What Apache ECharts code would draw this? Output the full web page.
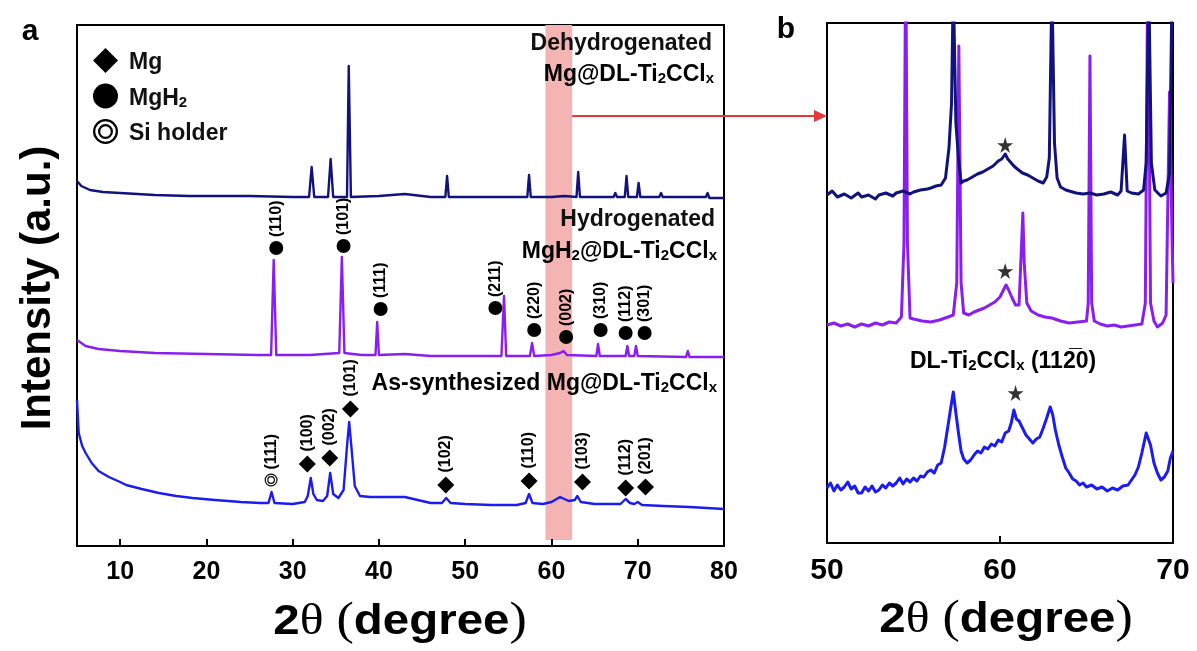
<!DOCTYPE html>
<html>
<head>
<meta charset="utf-8">
<script src="https://cdn.jsdelivr.net/npm/echarts@6/dist/echarts.min.js"></script>
<style>
html,body{margin:0;padding:0;background:#fff;}
#chart{width:1197px;height:651px;}
</style>
</head>
<body>
<div id="chart"></div>
<script>
// ---- axis ticks ----
const ticksA = [10, 20, 30, 40, 50, 60, 70, 80];
const ticksB = [50, 60, 70];

// ---- panel a: full-range XRD patterns, [2θ, intensity (a.u., offset)] ----
const asSynthesized = [
  [5.0,146],[5.2,113],[5.6,100],[6.0,93],[6.7,83],[7.5,75],[8.7,69],[10.0,64],[10.7,61],[12.5,57],
  [14.5,53],[16.5,50],[18.4,48],[21,46],[24,44],[26.2,43],[27.2,43],[27.55,54],[27.9,43],[30,42],
  [31.4,44],[31.75,50],[32.1,68],[32.4,52],[32.8,46],[33.5,45],[34.0,50],[34.35,73],[34.7,52],[35.3,48],
  [35.9,56],[36.3,100],[36.55,124],[36.8,100],[37.2,60],[37.8,50],[39,49],[41,49],[43,49],[44.5,46],
  [46,43],[47.3,43],[47.8,48],[48.3,43],[50,42],[53,41],[56,41],[57.0,43],[57.4,52],[57.8,43],
  [59,42],[60,44],[61,49],[62,45],[62.7,46],[63.0,50],[63.4,44],[65,42],[68.0,42],[68.6,47],
  [69.1,43],[69.6,42],[70.0,44],[70.5,41],[73,40],[76,39],[80,37]
];
const hydrogenated = [
  [5,206],[6,200],[7.5,197],[10,195],[14,193],[20,192],[26,191],[27.5,191],[27.8,286],[28.1,191],
  [32,191],[35.4,193],[35.7,289],[36.0,193],[38,191],[39.6,191],[39.8,224],[40.0,191],[43,192],[46,190],
  [50,190],[54.2,190],[54.5,250],[54.75,190],[57.5,190],[57.75,203],[58.0,190],[60,191],[61.0,193],[61.4,195],
  [61.8,191],[65.2,190],[65.4,202],[65.6,190],[68.6,190],[68.8,200],[69.0,190],[69.6,190],[69.8,200],[70.0,190],
  [75.6,189],[75.8,195],[76.0,189],[80,189]
];
const dehydrogenated = [
  [5,365],[5.5,360],[6.5,356],[8,354],[10,353],[14,351],[18,350],[25,350],[30,349],[31.9,349],
  [32.2,379],[32.5,349],[34.1,349],[34.4,387],[34.7,349],[36.3,349],[36.5,480],[36.75,349],[40,350],[43,352],
  [46,349],[47.7,349],[47.9,370],[48.1,349],[57.2,349],[57.4,371],[57.6,349],[60,349],[61.5,350],[62.9,349],
  [63.1,374],[63.3,349],[67.2,349],[67.4,353],[67.6,349],[68.5,349],[68.7,370],[68.9,349],[69.9,349],[70.1,363],
  [70.3,349],[72.5,349],[72.7,353],[72.9,349],[77.9,349],[78.1,353],[78.3,348],[80,348]
];

// ---- phase markers: [2θ, marker height, (hkl)] ----
const mgPeaks = [
  [31.7,82,'(100)'],[34.3,88,'(002)'],[36.7,137,'(101)'],[47.75,61,'(102)'],
  [57.4,65,'(110)'],[63.6,64,'(103)'],[68.6,58,'(112)'],[70.9,59,'(201)']
];
const mgh2Peaks = [
  [28.1,298,'(110)'],[35.9,300,'(101)'],[40.2,237,'(111)'],[53.5,238,'(211)'],[58.0,216,'(220)'],
  [61.7,209,'(002)'],[65.7,216,'(310)'],[68.6,213,'(112)'],[70.8,213,'(301)']
];
const siPeaks = [[27.5,66,'(111)']];

// ---- panel b: 50–70° detail ----
const dehydroZoom = [
  [50.0,348],[50.3,352],[50.6,346],[51.0,349],[51.4,345],[51.8,350],[52.0,346],[52.4,348],[52.8,344],[53.0,348],
  [53.4,350],[53.8,347],[54.0,350],[54.4,352],[54.8,349],[55.0,351],[55.4,353],[55.8,354],[56.0,355],[56.3,357],
  [56.6,358],[56.85,365],[57.05,395],[57.2,440],[57.3,560],[57.45,420],[57.6,385],[57.75,360],[57.9,362],[58.1,363],
  [58.4,366],[58.7,369],[59.0,371],[59.3,374],[59.6,377],[59.9,382],[60.1,384],[60.3,389],[60.45,384],[60.6,381],
  [60.8,377],[61.0,374],[61.3,370],[61.6,368],[61.9,365],[62.2,362],[62.5,360],[62.7,366],[62.85,385],[63.0,560],
  [63.15,400],[63.3,365],[63.5,356],[63.8,353],[64.0,352],[64.4,350],[64.8,349],[65.2,350],[65.6,348],[66.0,349],
  [66.4,351],[66.8,348],[67.0,352],[67.2,408],[67.35,352],[67.6,350],[68.0,349],[68.3,353],[68.45,380],[68.6,560],
  [68.75,380],[68.95,353],[69.3,347],[69.6,350],[69.8,370],[69.95,560],[70.0,560]
];
const hydroZoom = [
  [50.0,218],[50.4,220],[50.8,217],[51.2,219],[51.6,216],[52.0,219],[52.4,217],[52.8,220],[53.2,218],[53.6,221],
  [54.0,220],[54.3,226],[54.45,300],[54.55,600],[54.65,300],[54.8,225],[55.0,224],[55.5,222],[56.0,221],[56.5,223],
  [57.0,226],[57.3,228],[57.5,260],[57.62,497],[57.75,260],[57.9,230],[58.2,228],[58.5,231],[58.8,233],[59.1,235],
  [59.4,238],[59.7,241],[60.0,246],[60.2,253],[60.35,258],[60.5,253],[60.7,245],[60.9,238],[61.1,238],[61.25,300],
  [61.32,330],[61.4,280],[61.55,240],[61.8,232],[62.2,228],[62.6,226],[63.0,225],[63.5,222],[64.0,220],[64.5,221],
  [65.0,222],[65.1,240],[65.2,487],[65.3,240],[65.45,222],[65.8,219],[66.2,217],[66.6,218],[67.0,216],[67.4,217],
  [67.8,218],[68.2,219],[68.4,240],[68.55,600],[68.7,240],[68.9,222],[69.1,216],[69.4,220],[69.6,228],[69.8,451],
  [69.95,300],[70.0,260]
];
const asSynthZoom = [
  [50.0,55],[50.2,60],[50.4,52],[50.6,58],[50.8,53],[51.0,56],[51.2,61],[51.4,54],[51.6,57],[51.8,50],
  [52.0,50],[52.2,56],[52.4,52],[52.6,57],[52.8,51],[53.0,53],[53.2,58],[53.4,55],[53.6,60],[53.8,57],
  [54.0,60],[54.2,65],[54.4,59],[54.6,64],[54.8,61],[55.0,65],[55.2,62],[55.4,67],[55.6,66],[55.8,71],
  [56.0,73],[56.2,70],[56.4,78],[56.6,80],[56.8,96],[57.0,118],[57.15,135],[57.3,151],[57.45,130],[57.6,110],
  [57.75,92],[57.9,84],[58.1,80],[58.3,83],[58.5,88],[58.7,92],[58.9,90],[59.1,96],[59.3,94],[59.5,99],
  [59.7,97],[59.9,103],[60.1,101],[60.3,110],[60.5,112],[60.65,120],[60.8,133],[60.95,124],[61.1,122],[61.3,115],
  [61.5,108],[61.7,104],[61.9,100],[62.1,104],[62.3,106],[62.5,115],[62.7,125],[62.9,136],[63.05,128],[63.2,113],
  [63.4,98],[63.6,86],[63.8,75],[64.0,70],[64.2,64],[64.4,62],[64.6,58],[64.8,60],[65.0,56],[65.3,58],
  [65.6,54],[65.9,56],[66.2,52],[66.5,55],[66.8,53],[67.1,57],[67.4,58],[67.6,63],[67.8,68],[68.0,76],
  [68.2,90],[68.45,110],[68.7,98],[68.9,80],[69.1,70],[69.3,63],[69.5,66],[69.7,72],[69.85,85],[70.0,92]
];
// DL-Ti2CClx (11-20) reflection markers in panel b
const ticclStars = [[60.3,398],[60.3,272],[60.9,150]];

// highlighted 2θ window and arrow height (panel a units)
const zoomWindow = [59.3, 62.4];
const arrowLevel = 430;

// ---- styling ----
const SANS = "'Liberation Sans', Arial, sans-serif";
const SERIF = "'Liberation Serif', 'Times New Roman', serif";
const C_NAVY = '#12127e';
const C_PURPLE = '#8a1ef2';
const C_BLUE = '#1c1cf2';

const SI_PATH = 'path://M50,0 A50,50 0 1,1 50,100 A50,50 0 1,1 50,0 Z M50,9 A41,41 0 1,0 50,91 A41,41 0 1,0 50,9 Z M50,20 A30,30 0 1,1 50,80 A30,30 0 1,1 50,20 Z M50,29 A21,21 0 1,0 50,71 A21,21 0 1,0 50,29 Z';
const STAR_PATH = 'path://M50,0 L61,35 L98,35 L68,57 L79,91 L50,70 L21,91 L32,57 L2,35 L39,35 Z';

const subRich = {
  n: { fontFamily: SANS, fontWeight: 'bold', fontSize: 23, lineHeight: 28, verticalAlign: 'bottom', color: '#111' },
  s: { fontFamily: SANS, fontWeight: 'bold', fontSize: 15, lineHeight: 14, verticalAlign: 'bottom', color: '#111' }
};
const titleRich = {
  d: { fontFamily: SANS, fontWeight: 'bold', fontSize: 42, color: '#000' },
  t: { fontFamily: SERIF, fontSize: 44, color: '#000' },
  p: { fontFamily: SERIF, fontSize: 46, color: '#000' }
};

function hklLabel() {
  return {
    show: true, formatter: p => p.data[2], position: 'top', distance: 4,
    rotate: 90, align: 'left', verticalAlign: 'middle',
    fontFamily: SANS, fontWeight: 'bold', fontSize: 16, color: '#000'
  };
}

function frameAxisY(gridIndex, max) {
  return {
    type: 'value', gridIndex, min: 0, max,
    axisLine: { show: true, lineStyle: { color: '#000', width: 2 } },
    axisTick: { show: false }, axisLabel: { show: false }, splitLine: { show: false }
  };
}

function trace(name, data, color, grid, width) {
  return {
    name, type: 'line', data, xAxisIndex: grid, yAxisIndex: grid,
    showSymbol: false, symbol: 'none', clip: true, z: 3, silent: true,
    lineStyle: { color, width, join: 'round' }
  };
}
function markers(name, data, symbol, size) {
  return {
    name, type: 'scatter', data, xAxisIndex: 0, yAxisIndex: 0,
    symbol, symbolSize: size, z: 5, silent: true,
    itemStyle: { color: '#000', opacity: 1 },
    label: hklLabel()
  };
}

const chart = echarts.init(document.getElementById('chart'), null, { renderer: 'canvas' });

chart.setOption({
  animation: false,
  backgroundColor: '#fff',
  grid: [
    { left: 77, top: 25, width: 647, height: 521, outerBoundsMode: 'none', containLabel: false, show: true, borderColor: '#000', borderWidth: 2, backgroundColor: 'transparent' },
    { left: 827, top: 23, width: 346, height: 520, outerBoundsMode: 'none', containLabel: false, show: true, borderColor: '#000', borderWidth: 2, backgroundColor: 'transparent' }
  ],
  xAxis: [
    {
      // 5° steps from min; only the decade values carry labels, their ticks come from markLine below
      type: 'value', gridIndex: 0, min: 5, max: 80, interval: 5,
      axisLine: { show: true, onZero: false, lineStyle: { color: '#000', width: 2 } },
      axisTick: { show: false },
      axisLabel: {
        show: true, margin: 14, showMinLabel: true, showMaxLabel: true,
        formatter: v => ticksA.indexOf(v) >= 0 ? String(v) : '',
        fontFamily: SANS, fontWeight: 'bold', fontSize: 25, color: '#000'
      },
      splitLine: { show: false }
    },
    {
      type: 'value', gridIndex: 1, min: ticksB[0], max: ticksB[ticksB.length - 1], interval: 10,
      axisLine: { show: true, onZero: false, lineStyle: { color: '#000', width: 2 } },
      axisTick: { show: true, inside: true, length: 7, lineStyle: { color: '#000', width: 2 } },
      axisLabel: { show: true, margin: 13, showMinLabel: true, showMaxLabel: true, fontFamily: SANS, fontWeight: 'bold', fontSize: 30, color: '#000' },
      splitLine: { show: false }
    }
  ],
  yAxis: [frameAxisY(0, 521), frameAxisY(1, 520)],
  legend: {
    show: true, orient: 'vertical', left: 88, top: 43, itemGap: 9,
    itemWidth: 25, itemHeight: 25, selectedMode: false,
    data: ['Mg', 'MgH2', 'Si holder'],
    formatter: n => n === 'MgH2' ? '{n|MgH}{s|2}' : '{n|' + n + '}',
    textStyle: { padding: [0, 0, 0, 6], rich: subRich }
  },
  series: [
    {
      name: 'window', type: 'line', data: [], xAxisIndex: 0, yAxisIndex: 0, z: 1, silent: true,
      markArea: {
        silent: true,
        itemStyle: { color: '#f4b4b4' },
        data: [[{ xAxis: zoomWindow[0], yAxis: 6 }, { xAxis: zoomWindow[1], yAxis: 521 }]]
      }
    },
    {
      // inward ticks at the decade values of panel a
      name: 'ticks', type: 'line', data: [], xAxisIndex: 0, yAxisIndex: 0, z: 4, silent: true,
      markLine: {
        silent: true, symbol: 'none', label: { show: false },
        lineStyle: { color: '#000', width: 2, type: 'solid' },
        data: ticksA.map(t => [{ coord: [t, 0] }, { coord: [t, 7] }])
      }
    },
    trace('As-synthesized', asSynthesized, C_BLUE, 0, 2.4),
    trace('Hydrogenated', hydrogenated, C_PURPLE, 0, 2.4),
    trace('Dehydrogenated', dehydrogenated, C_NAVY, 0, 2.4),
    markers('Mg', mgPeaks, 'diamond', 17),
    markers('MgH2', mgh2Peaks, 'circle', 14),
    markers('Si holder', siPeaks, SI_PATH, 13),
    trace('As-synthesized zoom', asSynthZoom, C_BLUE, 1, 3),
    trace('Hydrogenated zoom', hydroZoom, C_PURPLE, 1, 3),
    trace('Dehydrogenated zoom', dehydroZoom, C_NAVY, 1, 3),
    {
      name: 'DL-Ti2CClx', type: 'scatter', data: ticclStars, xAxisIndex: 1, yAxisIndex: 1,
      symbol: STAR_PATH, symbolSize: 16, z: 5, silent: true, itemStyle: { color: '#000' }
    }
  ],
  graphic: [
    { type: 'text', z: 100, x: 30, y: 32, style: { text: 'a', fontFamily: SANS, fontWeight: 'bold', fontSize: 30, fill: '#000', align: 'center', verticalAlign: 'middle' } },
    { type: 'text', z: 100, x: 786, y: 30, style: { text: 'b', fontFamily: SANS, fontWeight: 'bold', fontSize: 30, fill: '#000', align: 'center', verticalAlign: 'middle' } },
    { type: 'text', z: 100, x: 38, y: 288, rotation: Math.PI / 2, style: { text: 'Intensity (a.u.)', fontFamily: SANS, fontWeight: 'bold', fontSize: 42, fill: '#000', align: 'center', verticalAlign: 'middle' } },
    { type: 'text', z: 100, x: 400, y: 622, scaleX: 1.13, style: { text: '{d|2}{t|θ}{p| (}{d|degree}{p|)}', rich: titleRich, align: 'center', verticalAlign: 'middle' } },
    { type: 'text', z: 100, x: 1006, y: 620, scaleX: 1.13, style: { text: '{d|2}{t|θ}{p| (}{d|degree}{p|)}', rich: titleRich, align: 'center', verticalAlign: 'middle' } },
    { type: 'text', z: 100, x: 712, y: 44, style: { text: 'Dehydrogenated', fontFamily: SANS, fontWeight: 'bold', fontSize: 23, fill: '#111', align: 'right', verticalAlign: 'middle' } },
    { type: 'text', z: 100, x: 714, y: 72, style: { text: '{n|Mg@DL-Ti}{s|2}{n|CCl}{s|x}', rich: subRich, align: 'right', verticalAlign: 'middle' } },
    { type: 'text', z: 100, x: 715, y: 220, style: { text: 'Hydrogenated', fontFamily: SANS, fontWeight: 'bold', fontSize: 23, fill: '#111', align: 'right', verticalAlign: 'middle' } },
    { type: 'text', z: 100, x: 717, y: 249, style: { text: '{n|MgH}{s|2}{n|@DL-Ti}{s|2}{n|CCl}{s|x}', rich: subRich, align: 'right', verticalAlign: 'middle' } },
    { type: 'text', z: 100, x: 717, y: 381, style: { text: '{n|As-synthesized Mg@DL-Ti}{s|2}{n|CCl}{s|x}', rich: subRich, align: 'right', verticalAlign: 'middle' } },
    { type: 'text', z: 100, x: 1003, y: 359, style: { text: '{n|DL-Ti}{s|2}{n|CCl}{s|x}{n| (112\u03050)}', rich: subRich, align: 'center', verticalAlign: 'middle' } }
  ]
});

// arrow from the highlighted window to the detail panel
const pStart = chart.convertToPixel({ gridIndex: 0 }, [zoomWindow[1], arrowLevel]);
const pEnd = chart.convertToPixel({ gridIndex: 1 }, [ticksB[0], 0]);
const ax0 = pStart[0], ay = pStart[1], ax1 = pEnd[0];
chart.setOption({
  graphic: [
    { type: 'line', id: 'arrowShaft', z: 10, shape: { x1: ax0, y1: ay, x2: ax1 - 10, y2: ay }, style: { stroke: '#e8373a', lineWidth: 2 } },
    { type: 'polygon', id: 'arrowHead', z: 10, shape: { points: [[ax1, ay], [ax1 - 13, ay - 6], [ax1 - 13, ay + 6]] }, style: { fill: '#e8373a' } }
  ]
});
</script>
</body>
</html>
